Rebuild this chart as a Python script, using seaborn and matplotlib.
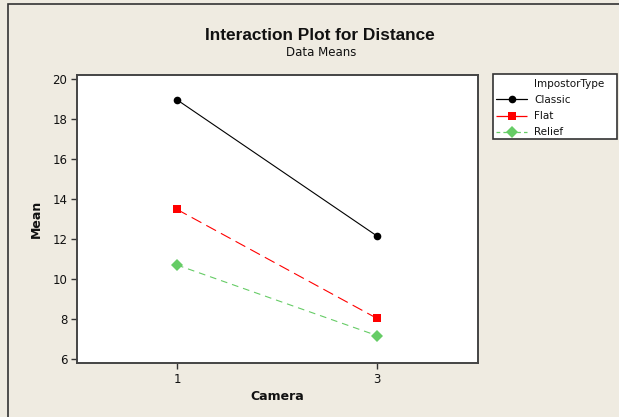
import matplotlib
matplotlib.use("Agg")
import matplotlib.pyplot as plt
import seaborn as sns
import pandas as pd
from matplotlib.patches import Rectangle
from matplotlib.lines import Line2D

# Cell means of Distance by Camera and ImpostorType
camera = [1, 3]
impostor_types = ["Classic", "Flat", "Relief"]
classic_means = [18.96, 12.15]
flat_means = [13.48, 8.03]
relief_means = [10.70, 7.17]
y_ticks = [6, 8, 10, 12, 14, 16, 18, 20]

df = pd.DataFrame({
    "Camera": camera * 3,
    "ImpostorType": [t for t in impostor_types for _ in camera],
    "Mean": classic_means + flat_means + relief_means,
})

sns.set_theme(style="ticks")
plt.rcParams["font.family"] = ["DejaVu Sans"]

bg = "#efebe1"
fig = plt.figure(figsize=(6.19, 4.17), dpi=100, facecolor=bg)
W, H = 619, 417


def fx(px):
    return px / W


def fy(py):
    return 1 - py / H


ax = fig.add_axes([fx(77), fy(363), (478 - 77) / W, (363 - 75) / H])
ax.set_facecolor("white")

# outer window frame
fig.patches.append(Rectangle((fx(8), -0.1), 2.0, fy(4) + 0.1,
                             transform=fig.transFigure, fill=False,
                             edgecolor="#333333", linewidth=1.2, zorder=0))

palette = {"Classic": "black", "Flat": "#ff0000", "Relief": "#66cc66"}
markers = {"Classic": "o", "Flat": "s", "Relief": "D"}
dashes = {"Classic": "", "Flat": (10, 5), "Relief": (6, 4.5)}
marker_sizes = {"Classic": 5.5, "Flat": 6.0, "Relief": 6.6}

sns.lineplot(data=df, x="Camera", y="Mean", hue="ImpostorType",
             style="ImpostorType", palette=palette, markers=markers,
             dashes=dashes, markersize=6, linewidth=0.8,
             markeredgewidth=0, ax=ax, legend=False)
for line, t in zip(ax.get_lines(), impostor_types):
    line.set_markersize(marker_sizes[t])

ax.set_xlim(0, 4.01)
ax.set_ylim(5.8, 20.2)
ax.set_xticks(camera)
ax.set_yticks(y_ticks)
ax.tick_params(axis="both", direction="out", length=4, width=1,
               color="#333333", labelsize=8.5, labelcolor="#111111", pad=3)
for s in ax.spines.values():
    s.set_color("#444444")
    s.set_linewidth(1.4)

ax.set_xlabel("Camera", fontsize=9, fontweight="bold", color="#111111", labelpad=3)
ax.set_ylabel("Mean", fontsize=9, fontweight="bold", color="#111111", labelpad=7)

fig.text(fx(320), fy(35), "Interaction Plot for Distance", ha="center",
         va="center", fontsize=12.4, fontweight="bold", color="#111111",
         family=["Liberation Sans"])
fig.text(fx(321), fy(53), "Data Means", ha="center", va="center",
         fontsize=8.5, color="#111111")

# legend box
fig.patches.append(Rectangle((fx(493), fy(139)), (617 - 493) / W, (139 - 74) / H,
                             transform=fig.transFigure, facecolor="white",
                             edgecolor="#333333", linewidth=1.2, zorder=2))

leg_dashes = {"Classic": None, "Flat": (12, 1), "Relief": (3, 2.5)}
handles = [Line2D([0], [0], linestyle="none", marker="none")]
for t in impostor_types:
    h = Line2D([0], [0], color=palette[t], marker=markers[t],
               markersize=marker_sizes[t], linewidth=0.9, markeredgewidth=0)
    if leg_dashes[t] is not None:
        h.set_dashes(leg_dashes[t])
    handles.append(h)
leg = fig.legend(handles, ["ImpostorType"] + impostor_types,
                 loc="upper left", bbox_to_anchor=(fx(494), fy(77)),
                 frameon=False, fontsize=7.5,
                 handlelength=3.0, handletextpad=0.65, labelspacing=0.58,
                 borderpad=0.2, borderaxespad=0)
leg.set_zorder(3)
for txt in leg.get_texts():
    txt.set_color("#111111")

fig.savefig("out.png", dpi=100, facecolor=bg)
